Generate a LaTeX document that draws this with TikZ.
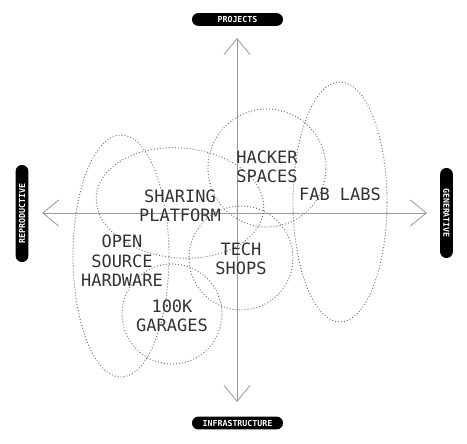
\documentclass[tikz,border=0pt]{standalone}
\usepackage{fontspec}
\newfontfamily\monofam{DejaVu Sans Mono}
\usetikzlibrary{arrows.meta}
\begin{document}
\begin{tikzpicture}[x=1pt,y=-1pt,
  axis/.style={draw=black!40, line width=0.8pt},
  barb/.tip={Straight Barb[length=16pt,width=26pt,line width=0.8pt]},
  zone/.style={draw=black!55, line width=1.3pt, dash pattern=on 0pt off 3pt, line cap=round},
  lbl/.style={font=\monofam\fontsize{17}{19.5}\selectfont, text=black!80, align=center, inner sep=0pt},
  pill/.style={fill=black, text=white, rounded corners=6.3pt, font=\monofam\bfseries\fontsize{8.3}{9}\selectfont, minimum height=12.8pt, inner sep=0pt}
]
\useasboundingbox[fill=white] (0,0) rectangle (467,444);

% axes
\coordinate (top) at (237,38);
\coordinate (bot) at (237,402);
\coordinate (lft) at (42,213);
\coordinate (rgt) at (427,213);
\draw[axis, barb-barb] (bot) -- (top);
\draw[axis, barb-barb] (lft) -- (rgt);

% zones
\draw[zone] (340,202) ellipse [x radius=47pt, y radius=120pt];
\draw[zone] (267,168) circle [radius=59pt];
\draw[zone] (241,258) circle [radius=52pt];
\draw[zone, rotate around={-5:(180,203)}] (180,203) ellipse [x radius=84pt, y radius=55pt];
\draw[zone] (121,256) ellipse [x radius=48pt, y radius=121pt];
\draw[zone] (172,314) circle [radius=50pt];

% labels
\node[lbl] (hacker) at (267,167) {HACKER\\SPACES};
\node[lbl] (fab) at (340,194) {FAB LABS};
\node[lbl] (sharing) at (180,206) {SHARING\\PLATFORM};
\node[lbl] (osh) at (122,261) {OPEN\\SOURCE\\HARDWARE};
\node[lbl] (tech) at (241,259) {TECH\\SHOPS};
\node[lbl] (garages) at (172,316) {100K\\GARAGES};

% axis pills
\node[pill, minimum width=91pt] (projects) at (237.5,19.5) {PROJECTS};
\node[pill, minimum width=91pt] (infra) at (237.5,423) {INFRASTRUCTURE};
\node[pill, minimum width=97pt, rotate=90] (repro) at (22,213.5) {REPRODUCTIVE};
\node[pill, minimum width=90pt, rotate=-90] (gen) at (446.5,213) {GENERATIVE};
\end{tikzpicture}
\end{document}
